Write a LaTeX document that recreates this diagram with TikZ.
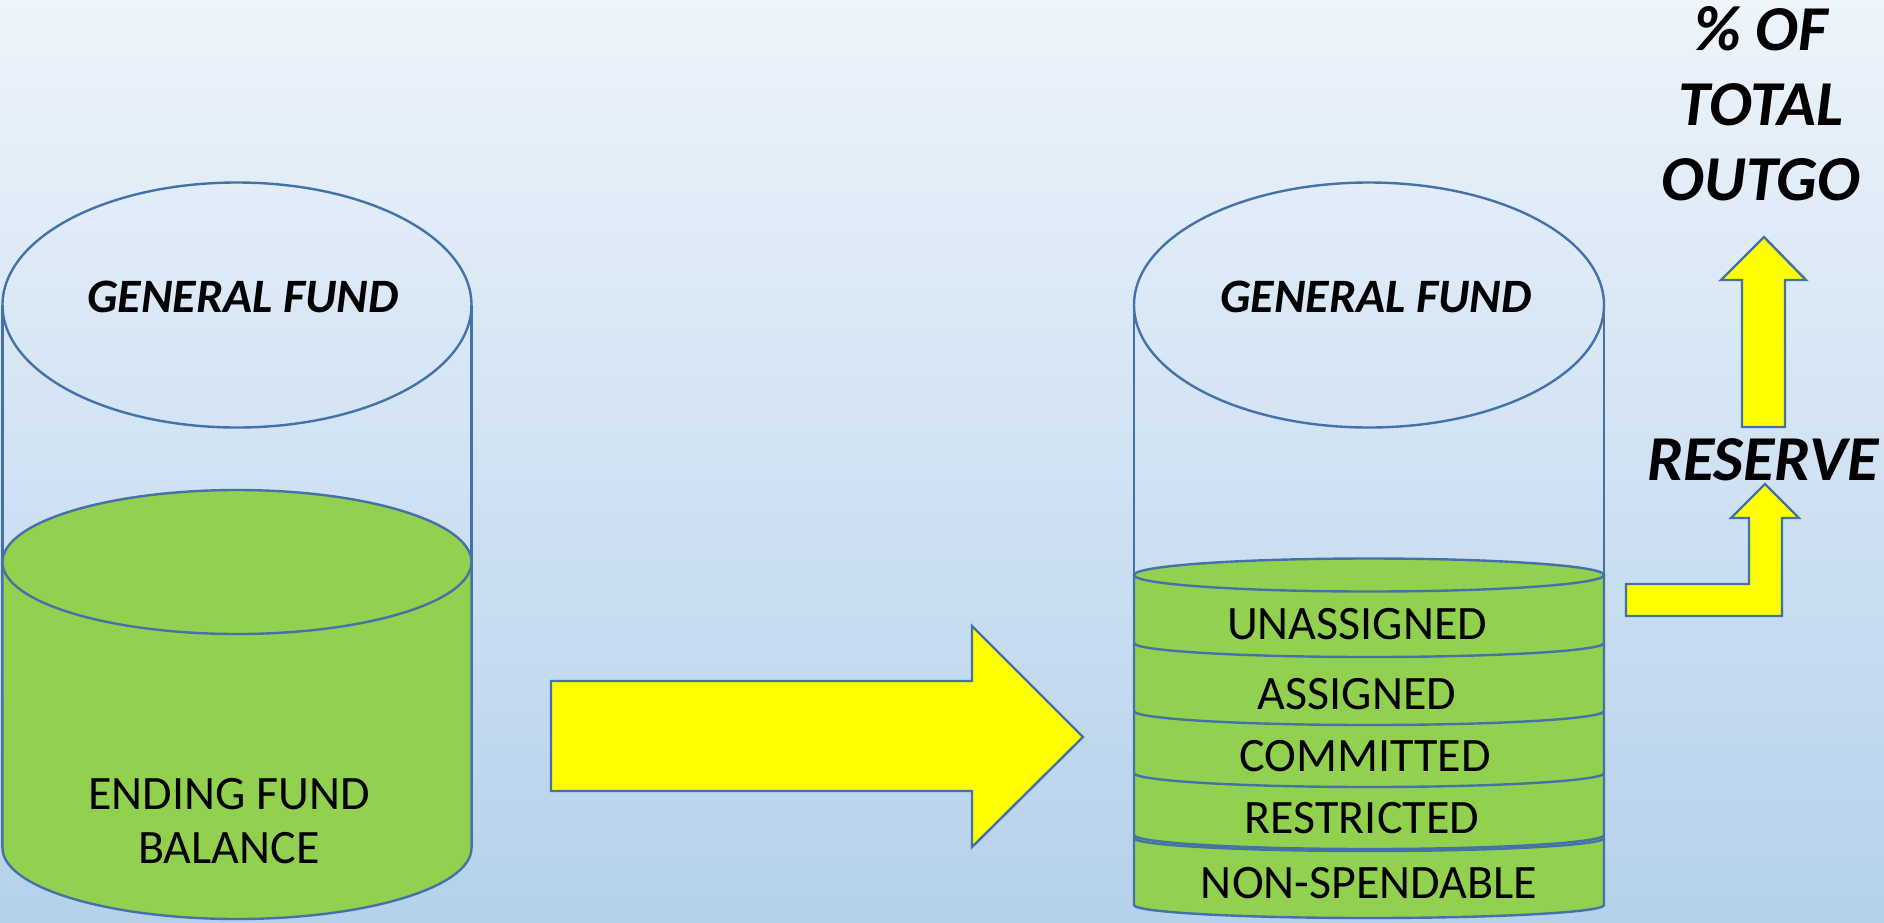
\documentclass[tikz,border=0pt]{standalone}
\usepackage{fontspec}
\setmainfont{Carlito}
\definecolor{bgtop}{RGB}{237,244,251}
\definecolor{bgbot}{RGB}{181,209,235}
\definecolor{fundgreen}{RGB}{146,208,80}
\definecolor{edge}{RGB}{68,114,168}
\definecolor{arrowyellow}{RGB}{255,255,0}
\begin{document}
\begin{tikzpicture}[x=1pt,y=-1pt,
  outline/.style={draw=edge, line width=2.4pt},
  lbl/.style={font=\fontsize{48}{54}\selectfont, text=black, inner sep=0pt, align=center},
  title/.style={font=\fontsize{48}{54}\selectfont\bfseries\itshape, text=black, inner sep=0pt},
  big/.style={font=\fontsize{64}{75}\selectfont\bfseries\itshape, text=black, inner sep=0pt, align=center},
  blockarrow/.style={fill=arrowyellow, draw=edge, line width=2.4pt, line join=miter}]
\shade[top color=bgtop, bottom color=bgbot] (0,0) rectangle (1884,922);
\useasboundingbox (0,0) rectangle (1884,922);

% ---------- left cylinder ----------
\coordinate (L) at (237,305);
\draw[outline] (2.5,305) -- (2.5,848) (471.5,305) -- (471.5,848);
\path[fill=fundgreen, outline] (2.5,562) -- (2.5,848)
  arc[start angle=180, end angle=0, x radius=234.5, y radius=71] -- (471.5,562) -- cycle;
\draw[fill=fundgreen, outline] (237,562) ellipse [x radius=234.5, y radius=72];
\draw[outline] (L) ellipse [x radius=234.5, y radius=122.5];
\node[title] (gfL) at (243,297) {GENERAL FUND};
\node[lbl] (efb) at (229,821) {ENDING FUND\\BALANCE};

% ---------- big arrow ----------
\draw[blockarrow] (551,681) -- (972,681) -- (972,626) -- (1083,737) -- (972,847)
  -- (972,791) -- (551,791) -- cycle;

% ---------- right cylinder ----------
\coordinate (R) at (1369,305);
\draw[outline] (1134,305) -- (1134,575) (1604,305) -- (1604,575);
\draw[outline] (R) ellipse [x radius=235, y radius=122.5];
\path[fill=fundgreen, outline] (1134,575) -- (1134,905)
  arc[start angle=180, end angle=0, x radius=235, y radius=13] -- (1604,575) -- cycle;
\foreach \yy in {643,711,773}{
  \draw[outline] (1134,\yy) arc[start angle=180, end angle=0, x radius=235, y radius=14];
}
\draw[outline] (1134,835) arc[start angle=180, end angle=0, x radius=235, y radius=14];
\draw[outline] (1134,838) arc[start angle=180, end angle=0, x radius=235, y radius=13];
\draw[fill=fundgreen, outline] (1369,575) ellipse [x radius=235, y radius=16.5];
\node[title] (gfR) at (1376,297) {GENERAL FUND};
\node[lbl] (un) at (1357,624) {UNASSIGNED};
\node[lbl] (as) at (1357,694) {ASSIGNED};
\node[lbl] (co) at (1365,756) {COMMITTED};
\node[lbl] (re) at (1362,818) {RESTRICTED};
\node[lbl] (ns) at (1369,883) {NON-SPENDABLE};

% ---------- right side ----------
\draw[blockarrow] (1626,584) -- (1749,584) -- (1749,518) -- (1731,518) -- (1765,484)
  -- (1799,518) -- (1782,518) -- (1782,616) -- (1626,616) -- cycle;
\node[big] (res) at (1763,460) {RESERVE};
\draw[blockarrow] (1742,427) -- (1742,280) -- (1721,280) -- (1764,237) -- (1806,280)
  -- (1785,280) -- (1785,427) -- cycle;
\node[big] (pct) at (1761,104) {\% OF\\TOTAL\\OUTGO};
\end{tikzpicture}
\end{document}
